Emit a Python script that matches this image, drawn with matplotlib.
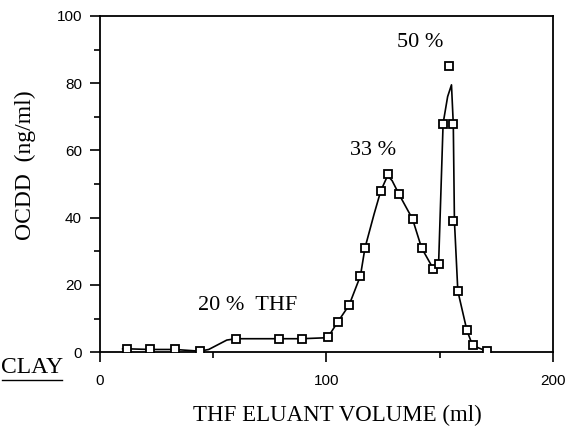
import matplotlib
matplotlib.use("Agg")
import matplotlib.pyplot as plt
from matplotlib.lines import Line2D
from matplotlib.ticker import MultipleLocator

# measured fractions (open squares)
vol = [12, 22, 33, 44, 60, 79, 89, 100.5, 105, 110, 115, 117, 124, 127,
       132, 138, 142, 147, 149.5, 151.5, 154.2, 156, 156, 158, 162, 164.5, 170.7]
ocdd = [1, 1, 1, 0.4, 4, 4, 4, 4.5, 9, 14, 22.7, 31, 48, 53,
        47, 39.6, 31, 24.7, 26.2, 68, 85, 67.8, 39, 18.2, 6.5, 2, 0.2]

# hand-drawn smooth curve through the fractions
curve_x = [10, 12, 22, 33, 44, 48, 52, 56, 60, 79, 89, 100.5, 105, 110, 115, 117,
           121, 124, 127, 129, 132, 138, 142, 147, 149.5, 151.5, 153.5, 155.2,
           156, 156.5, 158, 162, 164.5, 170.7]
curve_y = [1, 1, 0.8, 0.8, 0.3, 0.8, 2.2, 3.6, 4, 4, 4, 4.3, 9, 14, 22.7, 31,
           41, 48, 52.5, 51, 47, 39.6, 31, 25, 26, 68, 76, 79.5,
           67.8, 39, 18.2, 6.5, 2, 0.3]

annotations = [("50 %", 141.5, 92), ("33 %", 120.5, 60), ("20 %  THF", 65, 14)]

serif = "Liberation Serif"
sans = "Liberation Sans"

fig = plt.figure(figsize=(5.73, 4.30), dpi=100)
ax = fig.add_axes([0.1745, 0.181, 0.7905, 0.782])

ax.plot(curve_x, curve_y, color="black", lw=1.2, zorder=2)
ax.plot(vol, ocdd, ls="none", marker="s", ms=5.5, mfc="white", mec="black",
        mew=1.3, zorder=3)

for txt, x, y in annotations:
    ax.text(x, y, txt, fontsize=16, family=serif, ha="center", va="center")

ax.set_xlim(0, 200)
ax.set_ylim(0, 100)
ax.xaxis.set_major_locator(MultipleLocator(100))
ax.xaxis.set_minor_locator(MultipleLocator(50))
ax.yaxis.set_major_locator(MultipleLocator(20))
ax.yaxis.set_minor_locator(MultipleLocator(10))
ax.tick_params(which="major", length=7, width=1.2, direction="out")
ax.tick_params(which="minor", length=4, width=1.2, direction="out")
ax.tick_params(axis="x", pad=9)
ax.tick_params(axis="y", pad=6)
for lbl in ax.get_xticklabels() + ax.get_yticklabels():
    lbl.set_family(sans)
    lbl.set_fontsize(11)
for s in ax.spines.values():
    s.set_linewidth(1.3)

fig.text(0.588, 0.033, "THF ELUANT VOLUME (ml)", family=serif, fontsize=16.5,
         ha="center", va="center")
fig.text(0.044, 0.616, "OCDD  (ng/ml)", family=serif, fontsize=17,
         ha="center", va="center", rotation=90)

fig.text(0.0558, 0.146, "CLAY", family=serif, fontsize=17, ha="center", va="center")
fig.add_artist(Line2D([0.004, 0.108], [0.116, 0.116], color="black", lw=1,
                      transform=fig.transFigure))

fig.savefig("out.png", dpi=100)
